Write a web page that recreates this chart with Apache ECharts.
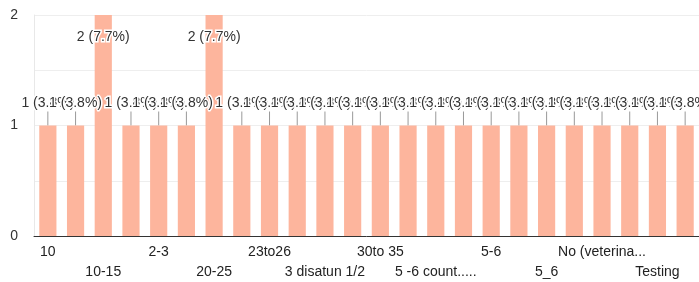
<!DOCTYPE html>
<html>
<head>
<meta charset="utf-8">
<script src="https://cdn.jsdelivr.net/npm/echarts@6/dist/echarts.min.js"></script>
<style>
  html, body { margin: 0; padding: 0; background: #fff; }
  #chart { width: 699px; height: 282px; }
</style>
</head>
<body>
<div id="chart"></div>
<script>
var categories = ['10', '10 - 12', '10-15', '15-20', '2-3', '20', '20-25', '22-25',
  '23to26', '25-30', '3 disatun 1/2', '3-4', '30to 35', '4-5', '5 -6 count.....', '5 to 6',
  '5-6', '5-7', '5_6', '6-8', 'No (veterinarian)', 'One', 'Testing', 'Unknown'];
var counts = [1, 1, 2, 1, 1, 1, 2, 1, 1, 1, 1, 1, 1, 1, 1, 1, 1, 1, 1, 1, 1, 1, 1, 1];
var yTicks = [0, 1, 2];

var total = counts.reduce(function (a, b) { return a + b; }, 0);
var yMax = yTicks[yTicks.length - 1];

function labelText(v) {
  return v + ' (' + (v / total * 100).toFixed(1) + '%)';
}

function shortName(v) {
  return v.length > 15 ? v.slice(0, 12) + '...' : v;
}

var barData = counts.map(function (v) {
  if (v >= yMax) {
    return { value: v, label: { position: 'insideTop', distance: 15 } };
  }
  return v;
});

var stemData = counts.map(function (v, i) { return [i, v]; });

// two label rows: every 4th category on row 1, the ones in between on row 2
function labelRow(row) {
  return {
    type: 'category',
    data: categories,
    position: 'bottom',
    axisLine: { show: row === 0, lineStyle: { color: '#333', width: 1 } },
    axisTick: { show: false },
    splitLine: { show: false },
    axisLabel: {
      interval: function (i) { return i % 4 === row * 2; },
      margin: row === 0 ? 9 : 29,
      fontSize: 14,
      color: '#222',
      formatter: shortName
    }
  };
}

var myChart = echarts.init(document.getElementById('chart'));
var option = {
  animation: false,
  textStyle: { fontFamily: 'Liberation Sans, Arial, sans-serif' },
  grid: { left: 34, right: 0, top: 15, bottom: 46, containLabel: false, outerBoundsMode: 'none' },
  xAxis: [labelRow(0), labelRow(1)],
  yAxis: {
    type: 'value',
    min: 0,
    max: yMax,
    interval: 0.5,
    axisLine: { show: true, lineStyle: { color: '#e8e8e8' } },
    axisTick: { show: false },
    splitLine: { lineStyle: { color: '#eeeeee' } },
    axisLabel: {
      margin: 16,
      fontSize: 14,
      color: '#333',
      formatter: function (v) {
        return yTicks.indexOf(v) >= 0 ? String(v) : '';
      }
    }
  },
  series: [
    {
      name: 'count',
      type: 'bar',
      xAxisIndex: 0,
      data: barData,
      barCategoryGap: '38%',
      itemStyle: { color: '#fdb59d' },
      label: {
        show: true,
        position: 'top',
        distance: 15,
        fontSize: 14,
        color: '#333',
        textBorderColor: '#fff',
        textBorderWidth: 3,
        formatter: function (p) { return labelText(p.value); }
      }
    },
    {
      name: 'stems',
      type: 'custom',
      xAxisIndex: 0,
      silent: true,
      data: stemData,
      renderItem: function (params, api) {
        var v = api.value(1);
        var p = api.coord([api.value(0), v]);
        var len = v >= yMax ? 12 : -14;
        return {
          type: 'line',
          shape: { x1: p[0], y1: p[1], x2: p[0], y2: p[1] + len },
          style: { stroke: '#999', lineWidth: 1 }
        };
      }
    }
  ]
};
myChart.setOption(option);
</script>
</body>
</html>
